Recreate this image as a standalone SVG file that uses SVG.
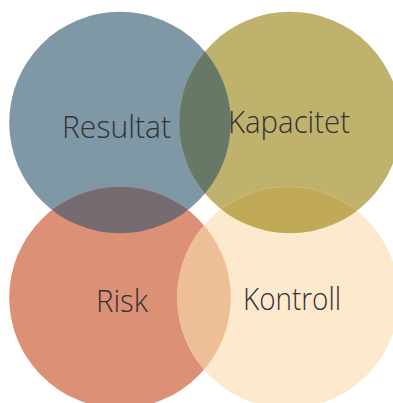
<svg xmlns="http://www.w3.org/2000/svg" width="393" height="403" viewBox="0 0 393 403">
<style>
.lbl{font-family:"Open Sans","Liberation Sans",sans-serif;font-weight:300;font-size:31px;fill:#353233}
</style>
<defs>
<clipPath id="cRes"><circle cx="120" cy="122.5" r="110.8"/></clipPath>
<clipPath id="cRisk"><circle cx="120" cy="297.5" r="110.8"/></clipPath>
<clipPath id="cKon"><circle cx="288" cy="297.5" r="110.8"/></clipPath>
</defs>
<rect width="393" height="403" fill="#ffffff"/>
<g id="resultat">
<circle cx="120" cy="122.5" r="110.8" fill="#7f98a6"/>
</g>
<g id="kapacitet">
<circle cx="290" cy="122.5" r="110.8" fill="#bfb26d"/>
<circle cx="290" cy="122.5" r="110.8" fill="#677866" clip-path="url(#cRes)"/>
</g>
<g id="risk">
<circle cx="120" cy="297.5" r="110.8" fill="#dc9176"/>
<circle cx="120" cy="297.5" r="110.8" fill="#756b70" clip-path="url(#cRes)"/>
</g>
<g id="kontroll">
<circle cx="288" cy="297.5" r="110.8" fill="#fde9cd"/>
<circle cx="290" cy="122.5" r="110.8" fill="#c1aa57" clip-path="url(#cKon)"/>
<circle cx="288" cy="297.5" r="110.8" fill="#eebe96" clip-path="url(#cRisk)"/>
</g>
<g id="labels">
<text class="lbl" x="62" y="137.5" textLength="109" lengthAdjust="spacingAndGlyphs">Resultat</text>
<text class="lbl" x="228" y="132.7" textLength="122" lengthAdjust="spacingAndGlyphs">Kapacitet</text>
<text class="lbl" x="96" y="311.5" textLength="52" lengthAdjust="spacingAndGlyphs">Risk</text>
<text class="lbl" x="243" y="310" textLength="98" lengthAdjust="spacingAndGlyphs">Kontroll</text>
</g>
<g id="connectors"/>
</svg>
